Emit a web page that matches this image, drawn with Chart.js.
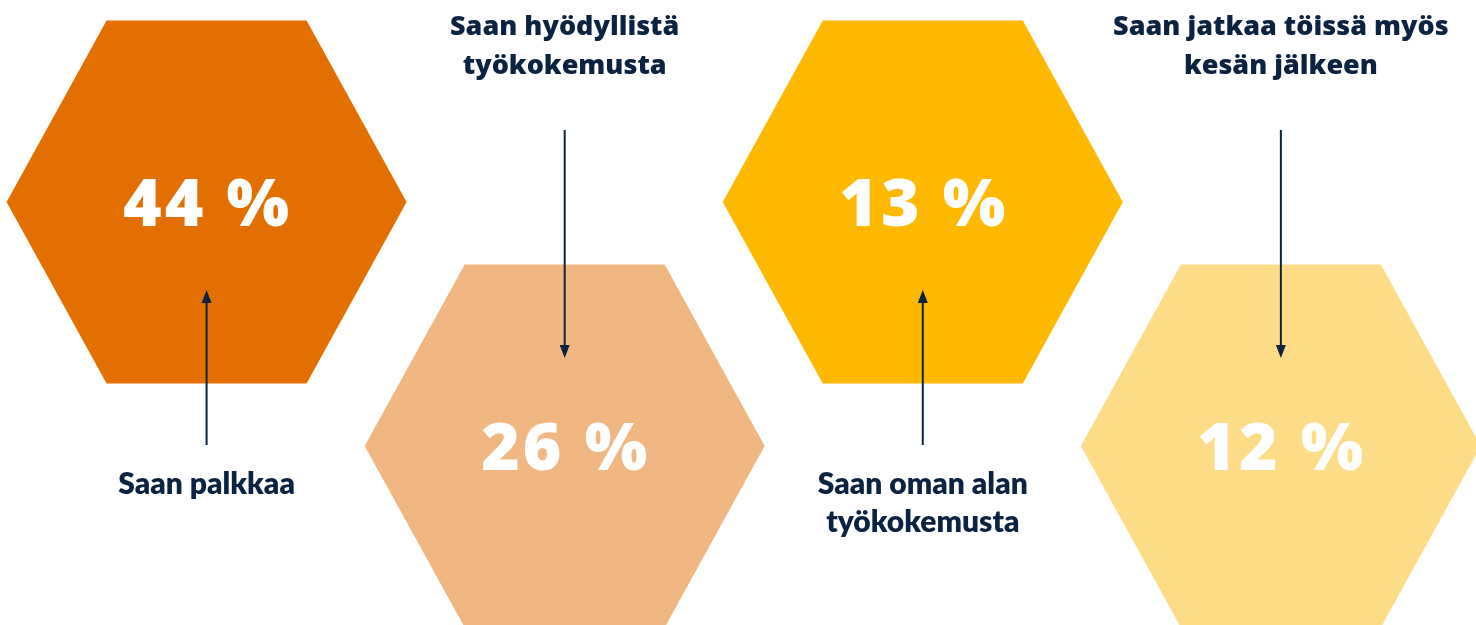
<!DOCTYPE html>
<html>
<head>
<meta charset="utf-8">
<script src="https://cdn.jsdelivr.net/npm/chart.js@4"></script>
<style>
  html, body { margin: 0; padding: 0; background: #ffffff; overflow: hidden; }
  #wrap { width: 1476px; height: 625px; }
</style>
</head>
<body>
<div id="wrap"><canvas id="c" width="1476" height="625"></canvas></div>
<script>
// ---- data ----
const categories = [
  ["Saan palkkaa"],
  ["Saan hyödyllistä", "työkokemusta"],
  ["Saan oman alan", "työkokemusta"],
  ["Saan jatkaa töissä myös", "kesän jälkeen"]
];
const values = [44, 26, 13, 12];
const valueSuffix = " %";

// ---- styles ----
const hexColors = ["#E36F00", "#F1B782", "#FFB800", "#FEDC87"];
const navy = "#0B2341";

const hexPlugin = {
  id: "hexPlugin",
  afterDatasetsDraw(chart) {
    const ctx = chart.ctx;
    const meta = chart.getDatasetMeta(0);
    const halfW = 200, halfTop = 100, halfH = 181.5;
    meta.data.forEach((pt, i) => {
      const cx = pt.x, cy = pt.y;
      ctx.save();
      ctx.beginPath();
      ctx.moveTo(cx - halfW, cy);
      ctx.lineTo(cx - halfTop, cy - halfH);
      ctx.lineTo(cx + halfTop, cy - halfH);
      ctx.lineTo(cx + halfW, cy);
      ctx.lineTo(cx + halfTop, cy + halfH);
      ctx.lineTo(cx - halfTop, cy + halfH);
      ctx.closePath();
      ctx.fillStyle = hexColors[i];
      ctx.fill();
      ctx.fillStyle = "#ffffff";
      ctx.font = "800 66px 'Open Sans'";
      ctx.letterSpacing = "3px";
      ctx.textAlign = "center";
      ctx.textBaseline = "alphabetic";
      ctx.fillText(values[i] + valueSuffix, cx + 1, cy + 24);
      ctx.letterSpacing = "0px";
      ctx.restore();
    });
    meta.data.forEach((pt, i) => {
      const cx = pt.x, cy = pt.y;
      const top = (i % 2 === 0);
      ctx.save();
      ctx.strokeStyle = navy;
      ctx.fillStyle = navy;
      ctx.lineWidth = 2;
      let tipY, tailY, dir;
      if (top) { tipY = cy + 88; tailY = cy + 243; dir = -1; }
      else { tipY = cy - 88; tailY = cy - 316; dir = 1; }
      ctx.beginPath();
      ctx.moveTo(cx, tailY);
      ctx.lineTo(cx, tipY - dir * 10);
      ctx.stroke();
      ctx.beginPath();
      ctx.moveTo(cx, tipY);
      ctx.lineTo(cx - 5, tipY - dir * 13);
      ctx.lineTo(cx + 5, tipY - dir * 13);
      ctx.closePath();
      ctx.fill();
      ctx.textAlign = "center";
      ctx.textBaseline = "alphabetic";
      const lines = categories[i];
      if (top) {
        ctx.font = "800 30px Lato";
        lines.forEach((ln, k) => ctx.fillText(ln, cx, cy + 292 + k * 38));
      } else {
        ctx.font = "800 27px 'Open Sans'";
        const n = lines.length;
        lines.forEach((ln, k) => ctx.fillText(ln, cx, cy - 372 - (n - 1 - k) * 39));
      }
      ctx.restore();
    });
  }
};

new Chart(document.getElementById("c"), {
  type: "scatter",
  data: {
    labels: categories.map(c => c.join(" ")),
    datasets: [{
      data: values.map((v, i) => ({ x: i, y: i % 2 })),
      pointRadius: 0,
      pointHoverRadius: 0
    }]
  },
  options: {
    responsive: false,
    animation: false,
    devicePixelRatio: 1,
    layout: { padding: 0 },
    events: [],
    plugins: { legend: { display: false }, tooltip: { enabled: false } },
    scales: {
      x: { type: "linear", display: false, min: -0.5769, max: 3.5449 },
      y: { type: "linear", display: false, reverse: true, min: -0.8279, max: 1.7336 }
    }
  },
  plugins: [hexPlugin]
});
</script>
</body>
</html>
